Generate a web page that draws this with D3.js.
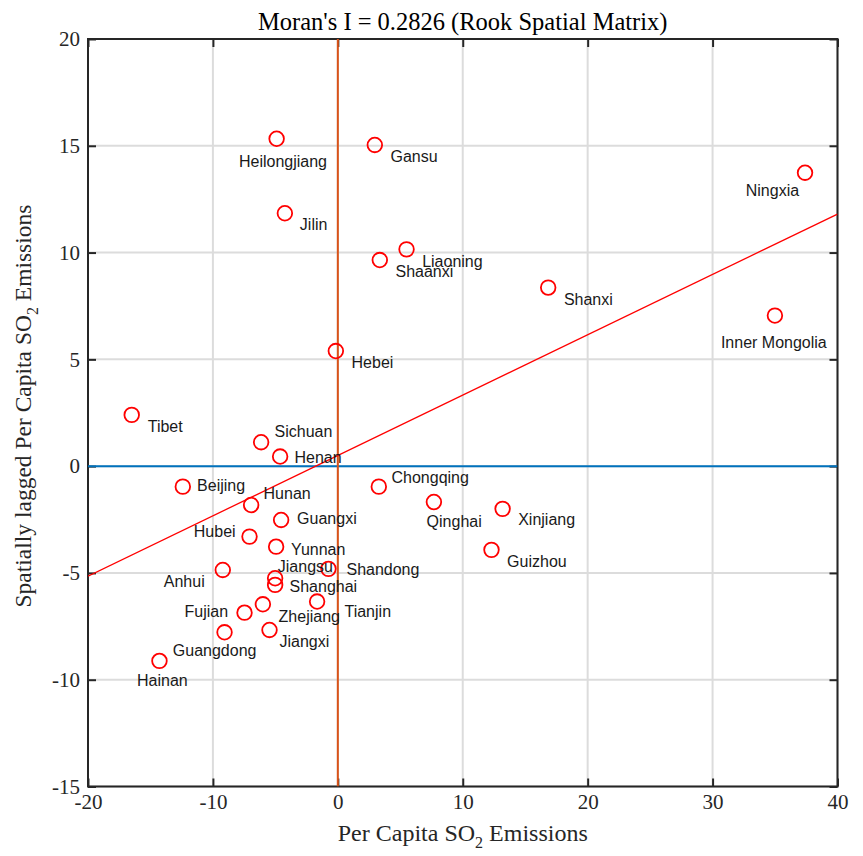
<!DOCTYPE html>
<html>
<head>
<meta charset="utf-8">
<script src="https://cdn.jsdelivr.net/npm/d3@7"></script>
<style>
  html, body { margin: 0; padding: 0; background: #fff; }
  svg { display: block; }
</style>
</head>
<body>
<div id="chart"></div>
<script>
// ---------- data ----------
const provinces = ["Heilongjiang","Gansu","Jilin","Liaoning","Shaanxi","Hebei","Ningxia","Shanxi","Inner Mongolia",
  "Tibet","Sichuan","Henan","Beijing","Hunan","Guangxi","Hubei","Yunnan","Anhui","Jiangsu","Shanghai","Shandong",
  "Tianjin","Zhejiang","Fujian","Jiangxi","Guangdong","Hainan","Chongqing","Qinghai","Xinjiang","Guizhou"];
const emissions = [-4.9, 2.96, -4.24, 5.5, 3.36, -0.16, 37.4, 16.84, 34.99,
  -16.5, -6.14, -4.62, -12.41, -6.94, -4.54, -7.07, -4.94, -9.21, -5.02, -5.02, -0.75,
  -1.66, -6.0, -7.47, -5.47, -9.07, -14.28, 3.28, 7.69, 13.19, 12.3];
const laggedEmissions = [15.33, 15.04, 11.84, 10.15, 9.65, 5.39, 13.74, 8.36, 7.05,
  2.4, 1.12, 0.45, -0.96, -1.82, -2.52, -3.3, -3.77, -4.86, -5.25, -5.56, -4.81,
  -6.34, -6.47, -6.86, -7.67, -7.78, -9.12, -0.96, -1.68, -2.0, -3.92];
const moranI = 0.2826;
const fitIntercept = 0.5;
const xTicks = [-20, -10, 0, 10, 20, 30, 40];
const yTicks = [-15, -10, -5, 0, 5, 10, 15, 20];
const titleText = "Moran's I = 0.2826 (Rook Spatial Matrix)";

// label placement (pixel offsets from point, text start / baseline)
const labelOffset = {
  "Heilongjiang": [-37.7, 28.7], "Gansu": [15.7, 16.7], "Jilin": [15, 16.7], "Liaoning": [15.6, 17.4],
  "Shaanxi": [15.7, 16.7], "Hebei": [15.7, 17.3], "Ningxia": [-59.3, 23.3], "Shanxi": [15.7, 17.3],
  "Inner Mongolia": [-54, 32.6], "Tibet": [16, 17.3], "Sichuan": [13.4, -5.6], "Henan": [14.4, 6],
  "Beijing": [14.3, 4], "Hunan": [12.4, -5.7], "Guangxi": [16, 4.3], "Hubei": [-55.7, 0],
  "Yunnan": [15, 8.3], "Anhui": [-59, 16.7], "Jiangsu": [2.7, -6.6], "Shanghai": [14.4, 7.3],
  "Shandong": [18, 6], "Tianjin": [27.4, 15], "Zhejiang": [15.7, 17.4], "Fujian": [-60, 4],
  "Jiangxi": [10, 16.7], "Guangdong": [-51.7, 23.7], "Hainan": [-22.4, 25], "Chongqing": [12.7, -3.4],
  "Qinghai": [-7.3, 24.7], "Xinjiang": [15.6, 16], "Guizhou": [15.6, 16.7]
};

// ---------- layout ----------
const W = 863, H = 856;
const L = 88, T = 39, R = 837.5, B = 786.5;
const serif = "'Liberation Serif','Times New Roman',Times,serif";
const sans = "'Liberation Sans',Arial,Helvetica,sans-serif";
const axisColor = "#262626";

const svg = d3.select("#chart").append("svg")
  .attr("width", W).attr("height", H)
  .attr("viewBox", `0 0 ${W} ${H}`);
svg.append("rect").attr("width", W).attr("height", H).attr("fill", "#fff");

const x = d3.scaleLinear().domain([-20, 40]).range([L, R]);
const y = d3.scaleLinear().domain([-15, 20]).range([B, T]);

// grid
const grid = svg.append("g");
grid.selectAll("line.gx").data(xTicks).join("line")
  .attr("x1", d => x(d)).attr("x2", d => x(d)).attr("y1", T).attr("y2", B)
  .attr("stroke", "#dcdcdc").attr("stroke-width", 2);
grid.selectAll("line.gy").data(yTicks).join("line")
  .attr("y1", d => y(d)).attr("y2", d => y(d)).attr("x1", L).attr("x2", R)
  .attr("stroke", "#dcdcdc").attr("stroke-width", 2);

// axes
function styleAxis(g, showText) {
  g.select(".domain").remove();
  g.selectAll(".tick line").attr("stroke", axisColor).attr("stroke-width", 2);
  g.selectAll(".tick text").attr("fill", axisColor)
    .style("font-family", serif).style("font-size", "21px");
  if (!showText) g.selectAll(".tick text").remove();
}
svg.append("g").attr("transform", `translate(0,${B})`)
  .call(d3.axisBottom(x).tickValues(xTicks).tickSize(-8).tickSizeOuter(0).tickPadding(8).tickFormat(d3.format("d")))
  .call(g => styleAxis(g, true));
svg.append("g").attr("transform", `translate(0,${T})`)
  .call(d3.axisTop(x).tickValues(xTicks).tickSize(-8).tickSizeOuter(0))
  .call(g => styleAxis(g, false));
svg.append("g").attr("transform", `translate(${L},0)`)
  .call(d3.axisLeft(y).tickValues(yTicks).tickSize(-8).tickSizeOuter(0).tickPadding(8).tickFormat(d3.format("d")))
  .call(g => styleAxis(g, true));
svg.append("g").attr("transform", `translate(${R},0)`)
  .call(d3.axisRight(y).tickValues(yTicks).tickSize(-8).tickSizeOuter(0))
  .call(g => styleAxis(g, false));
svg.selectAll("text").filter(function(){ return this.textContent.startsWith("−"); })
  .text(function(){ return this.textContent.replace("−", "-"); });

svg.append("rect").attr("x", L).attr("y", T).attr("width", R - L).attr("height", B - T)
  .attr("fill", "none").attr("stroke", axisColor).attr("stroke-width", 2);

// data layer (clipped)
svg.append("clipPath").attr("id", "plotclip").append("rect")
  .attr("x", L).attr("y", T).attr("width", R - L).attr("height", B - T);
const plot = svg.append("g").attr("clip-path", "url(#plotclip)");

plot.append("line").attr("x1", x(-20)).attr("x2", x(40)).attr("y1", y(0)).attr("y2", y(0))
  .attr("stroke", "#0072BD").attr("stroke-width", 2);
plot.append("line").attr("x1", x(0)).attr("x2", x(0)).attr("y1", y(-15)).attr("y2", y(20))
  .attr("stroke", "#D95319").attr("stroke-width", 2);
const fit = d3.line().x(d => x(d)).y(d => y(moranI * d + fitIntercept));
plot.append("path").attr("d", fit([-20, 40])).attr("fill", "none")
  .attr("stroke", "#ff0000").attr("stroke-width", 1.3);

const pts = provinces.map((p, i) => ({ name: p, x: emissions[i], y: laggedEmissions[i] }));
plot.selectAll("circle").data(pts).join("circle")
  .attr("cx", d => x(d.x)).attr("cy", d => y(d.y)).attr("r", 7.3)
  .attr("fill", "none").attr("stroke", "#ff0000").attr("stroke-width", 1.8);

svg.append("g").selectAll("text").data(pts).join("text")
  .attr("x", d => x(d.x) + labelOffset[d.name][0])
  .attr("y", d => y(d.y) + labelOffset[d.name][1])
  .style("font-family", sans).style("font-size", "16px").attr("fill", "#1a1a1a")
  .text(d => d.name);

// title
svg.append("text").attr("x", (L + R) / 2).attr("y", 29.5).attr("text-anchor", "middle")
  .style("font-family", serif).style("font-size", "24.5px").attr("fill", "#000")
  .text(titleText);

// x label
const xl = svg.append("text").attr("x", (L + R) / 2).attr("y", 841).attr("text-anchor", "middle")
  .style("font-family", serif).style("font-size", "24px").attr("fill", axisColor);
xl.append("tspan").text("Per Capita SO");
xl.append("tspan").attr("dy", 7).style("font-size", "16px").text("2");
xl.append("tspan").attr("dy", -7).text(" Emissions");

// y label
const yl = svg.append("text").attr("transform", `translate(31,406) rotate(-90)`)
  .attr("text-anchor", "middle")
  .style("font-family", serif).style("font-size", "23.5px").attr("fill", axisColor);
yl.append("tspan").text("Spatially lagged Per Capita SO");
yl.append("tspan").attr("dy", 7).style("font-size", "16px").text("2");
yl.append("tspan").attr("dy", -7).text(" Emissions");
</script>
</body>
</html>
